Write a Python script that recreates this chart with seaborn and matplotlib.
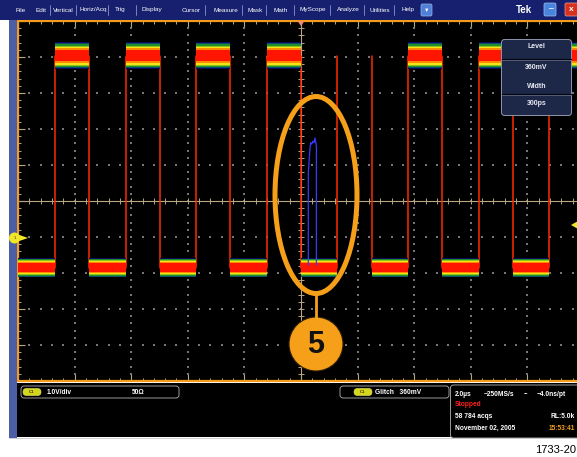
import numpy as np
import pandas as pd
import matplotlib
matplotlib.use('Agg')
import matplotlib.pyplot as plt
from matplotlib.patches import Ellipse, Circle, Rectangle, FancyBboxPatch, Polygon
from matplotlib.ticker import MultipleLocator
import seaborn as sns

# ---------------- data (time in divisions of 2 us, level in divisions of 1 V) ----------------
rise_t = [-4.346, -3.099, -1.852, -0.604, 0.643, 1.890, 3.138, 4.385]
fall_t = [-3.740, -2.493, -1.246, 0.002, 1.249, 2.496, 3.744]
high_start = [-4.346, -3.099, -1.852, -0.604, 1.890, 3.138, 4.385]
high_end = [-3.740, -2.493, -1.246, 0.002, 2.496, 3.744, 5.0]
low_start = [-5.0, -3.740, -2.493, -1.246, 0.002, 1.249, 2.496, 3.744]
low_end = [-4.346, -3.099, -1.852, -0.604, 0.643, 1.890, 3.138, 4.385]
high_level = 4.03
low_level = -1.85
glitch_t = [0.129, 0.129, 0.137, 0.159, 0.172, 0.19, 0.21, 0.23, 0.247, 0.262, 0.272, 0.272]
glitch_v = [-1.78, 0.78, 0.95, 1.47, 1.62, 1.58, 1.66, 1.62, 1.75, 1.62, 1.52, -1.78]

menu_items = ["File", "Edit", "Vertical", "Horiz/Acq", "Trig", "Display", "Cursor",
              "Measure", "Mask", "Math", "MyScope", "Analyze", "Utilities", "Help"]
menu_x = [15, 36, 53, 80, 115, 142, 182, 213, 248, 273, 300, 337, 369, 402]
menu_sep = [50, 76, 108, 136, 205, 242, 266, 294, 330, 364, 394]

# ---------------- styling ----------------
sns.set_theme(style='dark')
plt.rcParams['font.family'] = ['Liberation Sans', 'DejaVu Sans']

W, H = 577, 457
fig = plt.figure(figsize=(W / 100, H / 100), dpi=100)
fig.patch.set_facecolor('white')

PXX = 56.6   # px per horizontal division
PXY = 36.0   # px per vertical division
ax = fig.add_axes([18 / W, 1 - 381 / H, 566 / W, 360 / H])
ax.set_facecolor('black')
ax.set_xlim(-5, 5)
ax.set_ylim(-5, 5)
ax.grid(False)
for s in ax.spines.values():
    s.set_color('#f39c1a')
    s.set_linewidth(1.6)

tan = '#b9a682'
ax.xaxis.set_major_locator(MultipleLocator(1))
ax.yaxis.set_major_locator(MultipleLocator(1))
ax.xaxis.set_minor_locator(MultipleLocator(0.2))
ax.yaxis.set_minor_locator(MultipleLocator(0.2))
ax.tick_params(which='both', direction='in', top=True, bottom=True, left=True, right=True,
               labelbottom=False, labelleft=False, colors=tan)
ax.tick_params(which='major', length=5, width=0.8)
ax.tick_params(which='minor', length=2.2, width=0.7)

# graticule dots
dx, dy = [], []
for xv in range(-4, 5):
    if xv == 0:
        continue
    for yv in np.arange(-5, 5.001, 0.2):
        dx.append(xv); dy.append(yv)
for yv in range(-4, 5):
    if yv == 0:
        continue
    for xv in np.arange(-5, 5.001, 0.2):
        dx.append(xv); dy.append(yv)
ax.scatter(dx, dy, s=0.7, c='#767676', marker='s', linewidths=0, zorder=1)

# center cross with ticks
ax.axhline(0, color=tan, lw=0.8, zorder=1)
ax.axvline(0, color=tan, lw=0.8, zorder=1)
tx = np.arange(-5, 5.001, 0.2)
ax.vlines(tx, -3 / PXY, 3 / PXY, color=tan, lw=0.7, zorder=1)
ax.hlines(tx, -3 / PXX, 3 / PXX, color=tan, lw=0.7, zorder=1)

# waveform edges
edge_rows = []
for i, t in enumerate(sorted(rise_t + fall_t)):
    edge_rows.append({'t': t, 'v': low_level, 'edge': i})
    edge_rows.append({'t': t, 'v': high_level, 'edge': i})
edges = pd.DataFrame(edge_rows)
sns.lineplot(data=edges, x='t', y='v', units='edge', estimator=None, sort=False,
             color='#ff2a00', lw=1.1, ax=ax, legend=False, zorder=2)

# persistence bands
layer_colors = ['#08085e', '#0b4f6a', '#1e8f2a', '#8cc21c', '#f2e415', '#ff8a00', '#ff1500']
high_half = [13.5, 12.5, 11.5, 10.3, 9.0, 7.5, 5.5]
low_half = [9.8, 9.0, 8.2, 7.3, 6.4, 5.5, 4.5]
for s0, e0 in zip(high_start, high_end):
    for h, c in zip(high_half, layer_colors):
        ax.fill_between([s0, e0], high_level - h / PXY, high_level + h / PXY, color=c, lw=0, zorder=3)
for s0, e0 in zip(low_start, low_end):
    for h, c in zip(low_half, layer_colors):
        ax.fill_between([s0, e0], low_level - h / PXY, low_level + h / PXY, color=c, lw=0, zorder=3)

# glitch trace
sns.lineplot(x=glitch_t, y=glitch_v, sort=False, estimator=None, color='#3a3aff', lw=0.9,
             ax=ax, zorder=4)
ax.set_xlabel('')
ax.set_ylabel('')

# ---------------- overlay (screen furniture) ----------------
ov = fig.add_axes([0, 0, 1, 1], zorder=10)
ov.set_xlim(0, W)
ov.set_ylim(H, 0)
ov.axis('off')
ov.patch.set_alpha(0)

# menu bar
ov.add_patch(Rectangle((0, 0), W, 19.5, color='#16206e', lw=0))
for name, x in zip(menu_items, menu_x):
    ov.text(x, 10, name, color='white', fontsize=4.6, va='center', ha='left')
for x in menu_sep:
    ov.plot([x, x], [5, 15], color='#8a92c8', lw=0.6)
ov.add_patch(FancyBboxPatch((421, 4), 11, 12, boxstyle='round,pad=0,rounding_size=1.5',
                            fc='#4f7fd6', ec='#9ab4e8', lw=0.5))
ov.text(426.5, 10.5, '\u25BC', color='white', fontsize=4, ha='center', va='center')
ov.text(516, 10, 'Tek', color='white', fontsize=7, fontweight='bold', va='center')
ov.add_patch(FancyBboxPatch((544, 3), 12, 13, boxstyle='round,pad=0,rounding_size=1.5',
                            fc='#4a84dc', ec='#a0c0f0', lw=0.5))
ov.text(550, 10, '_', color='white', fontsize=6, ha='center', va='bottom', fontweight='bold')
ov.add_patch(FancyBboxPatch((565, 3), 13, 13, boxstyle='round,pad=0,rounding_size=1.5',
                            fc='#d8321e', ec='#f0a090', lw=0.5))
ov.text(571, 9.5, 'x', color='white', fontsize=6, ha='center', va='center', fontweight='bold')

# left blue strip & bottom panel
ov.add_patch(Rectangle((9, 19.5), 8, 418, color='#4b5ea6', lw=0))
ov.add_patch(Rectangle((17, 383), W - 17, 54, color='black', lw=0))
ov.plot([9, W], [437.5, 437.5], color='#c8c8c8', lw=0.6)

# markers
ov.add_patch(Circle((14.5, 238), 5.5, color='#f2e62a', lw=0))
ov.add_patch(Polygon([(18, 234.5), (28, 238), (18, 241.5)], closed=True, color='#f2e62a', lw=0))
ov.text(14.5, 238, '1', fontsize=3, ha='center', va='center', color='#333300')
ov.add_patch(Polygon([(571, 225), (578, 221), (578, 229)], closed=True, color='#f2e62a', lw=0))
ov.add_patch(Polygon([(297.5, 21), (304.5, 21), (301, 26)], closed=True, color='#f48a70', lw=0))

# level / width panel
ov.add_patch(FancyBboxPatch((501.5, 39.5), 70, 76, boxstyle='round,pad=0,rounding_size=3',
                            fc='#1d2748', ec='#8f95ad', lw=0.7))
for yy in (59, 94):
    ov.plot([502, 571], [yy, yy], color='#05070f', lw=0.9)
    ov.plot([502, 571], [yy + 1.2, yy + 1.2], color='#6e7590', lw=0.5)
for label, yy in (('Level', 47), ('360mV', 67.5), ('Width', 86), ('300ps', 103.5)):
    ov.text(536.5, yy, label, color='#e6e8f0', fontsize=5, fontweight='bold', ha='center', va='center')

# annotation ellipse and callout
orange = '#f6a01a'
ov.add_patch(Ellipse((316, 195), 82, 197, fill=False, ec=orange, lw=3.6))
ov.plot([316, 316], [293, 318], color=orange, lw=2.0)
ov.add_patch(Circle((316, 344), 27, fc=orange, ec='#2a1c05', lw=0.8))
ov.text(316, 345, '5', fontsize=22, fontweight='bold', color='#111111', ha='center', va='center')

# bottom info boxes
def box(x, y, w, h):
    ov.add_patch(FancyBboxPatch((x, y), w, h, boxstyle='round,pad=0,rounding_size=3',
                                fc='black', ec='#b4b4b4', lw=0.6))

def pill(x, y):
    ov.add_patch(FancyBboxPatch((x, y - 3.5), 18, 7, boxstyle='round,pad=0,rounding_size=3.5',
                                fc='#d6d61e', ec='#e8e860', lw=0.4))
    ov.text(x + 9, y, 'C1', fontsize=3.2, ha='center', va='center', color='#3a3a00', fontweight='bold')

box(21, 386, 158, 12)
pill(23, 392)
ov.text(47, 392, '1.0V/div', color='white', fontsize=4.8, fontweight='bold', va='center')
ov.text(132, 392, '50\u03A9', color='white', fontsize=4.8, fontweight='bold', va='center')

box(340, 386, 109, 12)
pill(354, 392)
ov.text(375, 392, 'Glitch   360mV', color='white', fontsize=4.8, fontweight='bold', va='center')

box(450.5, 385, 135, 53)
fs = 4.8
ov.text(455, 394, '2.0\u00B5s', color='white', fontsize=fs, fontweight='bold', va='center')
ov.text(484, 394, '~250MS/s', color='white', fontsize=fs, fontweight='bold', va='center')
ov.text(524, 394, '--', color='white', fontsize=fs, fontweight='bold', va='center')
ov.text(537, 394, '~4.0ns/pt', color='white', fontsize=fs, fontweight='bold', va='center')
ov.text(455, 404.5, 'Stopped', color='#ff2020', fontsize=fs, fontweight='bold', va='center')
ov.text(455, 416, '58 784 acqs', color='white', fontsize=fs, fontweight='bold', va='center')
ov.text(575, 416, 'RL:5.0k', color='white', fontsize=fs, fontweight='bold', va='center', ha='right')
ov.text(455, 428, 'November 02, 2005', color='white', fontsize=fs, fontweight='bold', va='center')
ov.text(575, 428, '15:53:41', color='#f0a020', fontsize=fs, fontweight='bold', va='center', ha='right')

ov.text(576, 450, '1733-20', color='black', fontsize=8, ha='right', va='center')

fig.savefig('out.png', dpi=100, facecolor=fig.get_facecolor())
